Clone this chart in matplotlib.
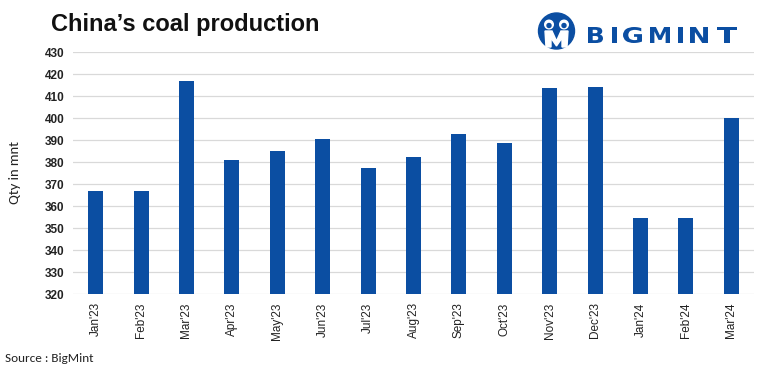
import matplotlib
matplotlib.use("Agg")
import matplotlib.pyplot as plt
from matplotlib.patches import Circle, Ellipse, PathPatch, Polygon
from matplotlib.textpath import TextPath
from matplotlib.font_manager import FontProperties
from matplotlib.transforms import Affine2D
from matplotlib import font_manager

months = ["Jan'23", "Feb'23", "Mar'23", "Apr'23", "May'23", "Jun'23", "Jul'23",
          "Aug'23", "Sep'23", "Oct'23", "Nov'23", "Dec'23", "Jan'24", "Feb'24", "Mar'24"]
production = [366.8, 366.8, 416.9, 381.0, 385.1, 390.3, 377.4, 382.2, 392.8, 388.7,
              413.6, 414.1, 354.6, 354.6, 399.8]
yticks = list(range(320, 431, 10))

names = {f.name for f in font_manager.fontManager.ttflist}
narrow = 'Liberation Sans Narrow' if 'Liberation Sans Narrow' in names else 'Liberation Sans'
body = 'Carlito' if 'Carlito' in names else 'Liberation Sans'

W, H = 767, 371
fig = plt.figure(figsize=(W/100, H/100), dpi=100)
ax = fig.add_axes([73/W, 1 - 294/H, (754 - 73)/W, (294 - 52)/H])

x = list(range(len(months)))
ax.bar(x, [p - 320 for p in production], bottom=320, width=0.33, color='#0b4ea2', zorder=3)
ax.set_xlim(-0.5, len(months) - 0.5)
ax.set_ylim(320, 430)
ax.set_yticks(yticks)
ax.set_yticklabels([str(t) for t in yticks], fontsize=8.5, family='Liberation Sans',
                   fontweight='semibold', color='#222222')
ax.set_xticks(x)
ax.set_xticklabels(months, rotation=90, fontsize=8.5, family='Liberation Sans', color='#222222')
ax.grid(axis='y', color='#d9d9d9', linewidth=0.9, zorder=0)
for s in ['top', 'right', 'left', 'bottom']:
    ax.spines[s].set_visible(False)
ax.tick_params(axis='both', length=0, pad=6)

fig.text(15/W, 1 - 173/H, 'Qty in mnt', fontsize=10.5, family=body, rotation=90,
         color='#222222', va='center', ha='center')

fig.text(51/W, 1 - 24/H, "China\u2019s coal production", fontsize=17, fontweight='bold',
         family=narrow, va='center', ha='left', color='#111111')
fig.text(5/W, 1 - 358/H, "Source : BigMint", fontsize=9.5,
         family=body, va='center', ha='left', color='#222222')

# logo in pixel-like coordinates
blue = '#0b4ea2'
lax = fig.add_axes([530/W, 1 - 55/H, 220/W, 50/H])
lax.set_xlim(530, 750)
lax.set_ylim(55, 5)
lax.axis('off')
lax.add_patch(Ellipse((556.5, 31), 36, 36, color=blue))
lax.add_patch(Circle((549, 24.5), 4.3, color='white'))
lax.add_patch(Circle((564, 24.5), 4.3, color='white'))
lax.add_patch(Circle((549, 25.5), 2.0, color=blue))
lax.add_patch(Circle((564, 25.5), 2.0, color=blue))
lax.add_patch(Polygon([(545, 31), (552, 31), (556.5, 41), (561, 31), (568, 31),
                       (567, 47), (562, 47), (562, 38), (556.5, 46), (551, 38), (551, 47), (546, 47)],
                      closed=True, color='white'))

fp = FontProperties(family='DejaVu Sans', weight='bold')
logo_letters = ["B", "I", "G", "M", "I", "N", "T"]
logo_x0 = [588, 612, 623, 650, 678, 690, 717]
logo_x1 = [603, 616.5, 642, 670, 682.5, 708, 737]
for ch, x0, x1 in zip(logo_letters, logo_x0, logo_x1):
    tp = TextPath((0, 0), ch, size=1, prop=fp)
    ext = tp.get_extents()
    tr = (Affine2D().translate(-ext.x0, -ext.y0)
          .scale((x1 - x0) / ext.width, -16 / ext.height)
          .translate(x0, 43))
    lax.add_patch(PathPatch(tr.transform_path(tp), color=blue, lw=0))

fig.savefig('out.png', dpi=100)
